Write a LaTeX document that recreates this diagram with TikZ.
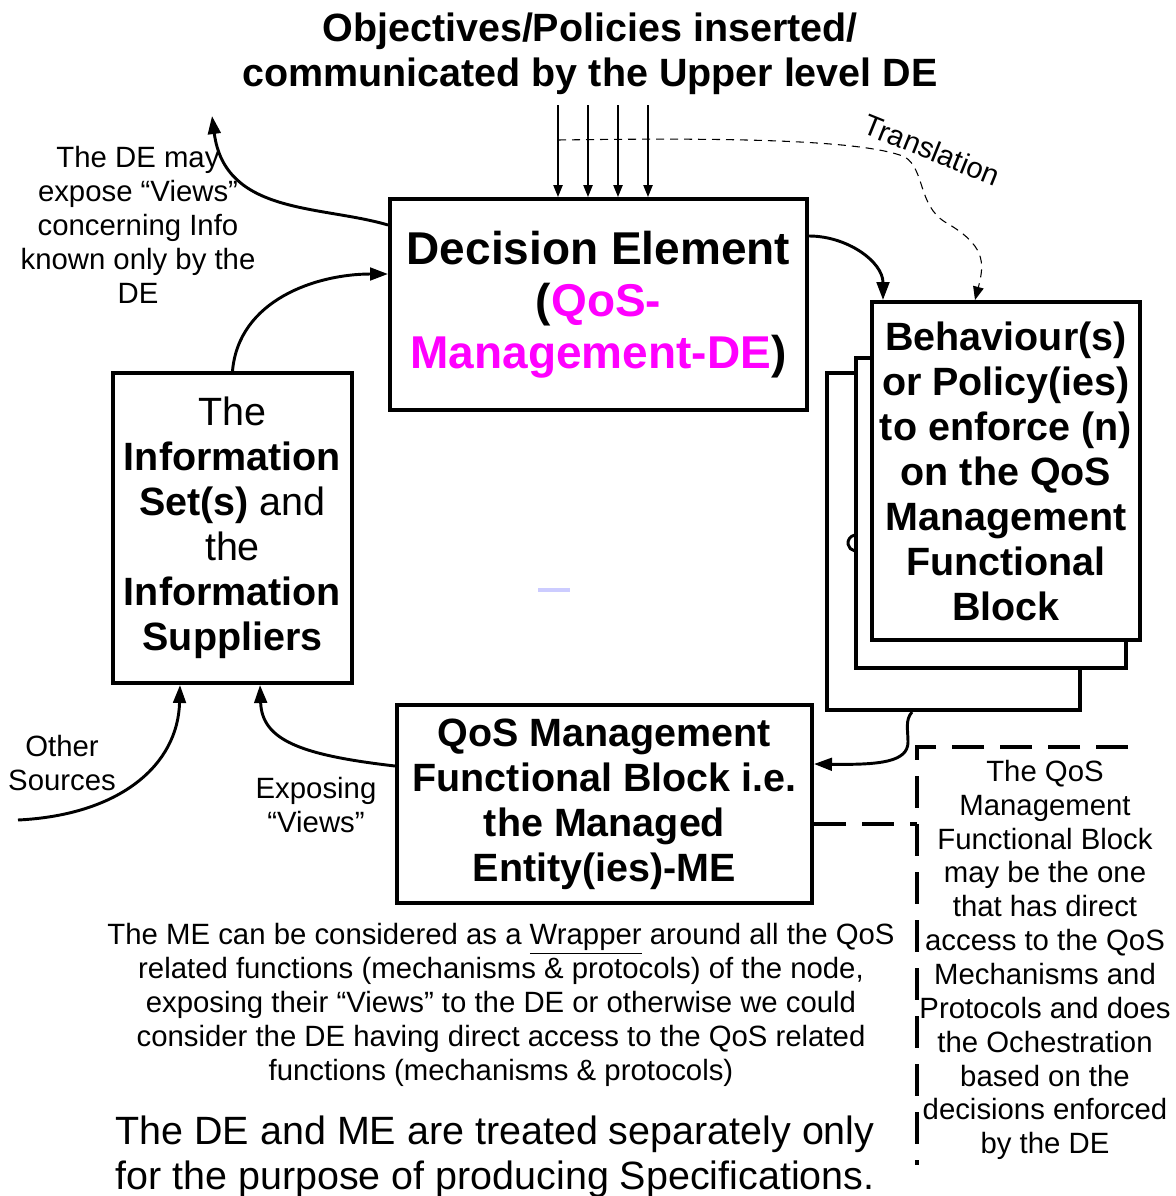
\documentclass[tikz,border=0pt]{standalone}
\usepackage{fontspec}
\setmainfont{Liberation Sans}
\usetikzlibrary{arrows.meta,calc,positioning}
\definecolor{qosmagenta}{RGB}{255,0,255}
\definecolor{lavender}{RGB}{204,204,255}
\newcommand{\bigtext}{\fontsize{29.6}{33.75}\selectfont}
\newcommand{\smalltext}{\fontsize{22}{25.4}\selectfont}

\begin{document}
\begin{tikzpicture}[x=0.75pt,y=0.75pt,
    box/.style={draw, line width=3pt, fill=white, align=center, inner sep=0pt, font=\bfseries\bigtext},
    note/.style={align=center, inner sep=0pt, font=\smalltext},
    flow/.style={line width=2.2pt, -{Triangle[length=13.5pt,width=9.5pt]}},
    pol/.style={line width=1pt, -{Triangle[length=9pt,width=7pt]}},
    notedash/.style={line width=2.4pt, dash pattern=on 24pt off 12pt}]
    \useasboundingbox (0,0) rectangle (1175,-1196);

    \node (title) [align=center, font=\bfseries\bigtext] at (590,-54) {Objectives/Policies inserted/\\communicated by the Upper level DE};
    \node (de) [box, font=\bfseries\fontsize{34.5}{39}\selectfont, minimum width=312.75pt, minimum height=158.25pt] at (598.5,-304.5)
        {Decision Element\\(\textcolor{qosmagenta}{QoS-}\\\textcolor{qosmagenta}{Management-DE})};

    % stacked behaviour boxes
    \node (back) [box, minimum width=189.75pt, minimum height=252.75pt] at (953.5,-541.5) {};
    \draw[line width=2.2pt] (854.6,-535.1) arc[start angle=100, end angle=260, radius=8];
    \node (mid) [box, minimum width=202.5pt, minimum height=232.5pt] at (991,-513) {};
    \node (beh) [box, minimum width=201pt, minimum height=253.5pt] at (1006,-471)
        {Behaviour(s)\\or Policy(ies)\\to enforce (n)\\on the QoS\\Management\\Functional\\Block};

    \node (info) [box, font=\bigtext, minimum width=179.25pt, minimum height=232.5pt] at (232.5,-528)
        {The\\\textbf{Information}\\\textbf{Set(s)} and\\the\\\textbf{Information}\\\textbf{Suppliers}};
    \node (me) [box, minimum width=311.25pt, minimum height=148.5pt] at (604.5,-804)
        {QoS Management\\Functional Block i.e.\\the Managed\\Entity(ies)-ME};

    \draw[lavender, line width=2.5pt] (538,-590) -- (570,-590);

    % dashed side note
    \coordinate (nw) at (917,-747);
    \coordinate (ne) at (1128,-747);
    \coordinate (sw) at (917,-1165);
    \draw[notedash] (ne) -- (nw) -- (sw);
    \coordinate (mejoin) at ([yshift=-15pt]me.east);
    \draw[notedash] (mejoin) -- (mejoin -| nw);
    \node (notetxt) [note] at (1045,-960) {The QoS\\Management\\Functional Block\\may be the one\\that has direct\\access to the QoS\\Mechanisms and\\Protocols and does\\the Ochestration\\based on the\\decisions enforced\\by the DE};

    \node (views) [note] at (138,-225) {The DE may\\expose “Views”\\concerning Info\\known only by the\\DE};
    \node (other) [note] at (62,-763) {Other\\Sources};
    \node (expo) [note] at (316,-805) {Exposing\\“Views”};
    \node (transl) [note, rotate=-22] at (932,-150) {Translation};
    \node (wrap) [note] at (501,-1005) {The ME can be considered as a \underline{Wrapper} around all the QoS\\related functions (mechanisms \& protocols) of the node,\\exposing their “Views” to the DE or otherwise we could\\consider the DE having direct access to the QoS related\\functions (mechanisms \& protocols)};
    \node (spec) [align=center, inner sep=0pt, font=\bigtext] at (495,-1157) {The DE and ME are treated separately only\\for the purpose of producing Specifications.};

    % policies coming from the upper level
    \foreach \dx in {170,200,230,260}
        \draw[pol] ($(de.north west)+(\dx,92)$) -- ($(de.north west)+(\dx,0)$);
    \coordinate (tstart) at ($(de.north west)+(170,57)$);
    \draw[line width=0.8pt, dash pattern=on 6pt off 4.5pt, -{Triangle[length=10pt,width=8pt]}]
        (tstart) .. controls (700,-138) and (860,-138) .. (905,-157)
        .. controls (925,-170) and (918,-205) .. (945,-222)
        .. controls (985,-245) and (985,-262) .. ($(beh.north west)+(105,0)$);

    \draw[flow] ($(de.north east)+(0,-39)$) to[out=0,in=90] ($(beh.north west)+(13,0)$);
    \coordinate (upend) at (212,-116);
    \draw[flow] ($(de.north west)+(0,-28)$) .. controls (320,-205) and (225,-215) .. (upend);
    \draw[flow] (info.north) to[out=85,in=180] ($(de.north west)+(0,-77)$);
    \coordinate (otherstart) at (18,-820);
    \draw[flow] (otherstart) .. controls (120,-815) and (178,-765) .. ($(info.south west)+(69,0)$);
    \draw[flow] ($(me.north west)+(0,-63)$) .. controls (300,-755) and (262,-740) .. ($(info.south west)+(149,0)$);
    \draw[flow] ($(back.south west)+(87,0)$) .. controls (905,-720) and (908,-730) .. (908,-742)
        .. controls (908,-762) and (880,-765) .. ($(me.north east)+(0,-61)$);
\end{tikzpicture}
\end{document}
